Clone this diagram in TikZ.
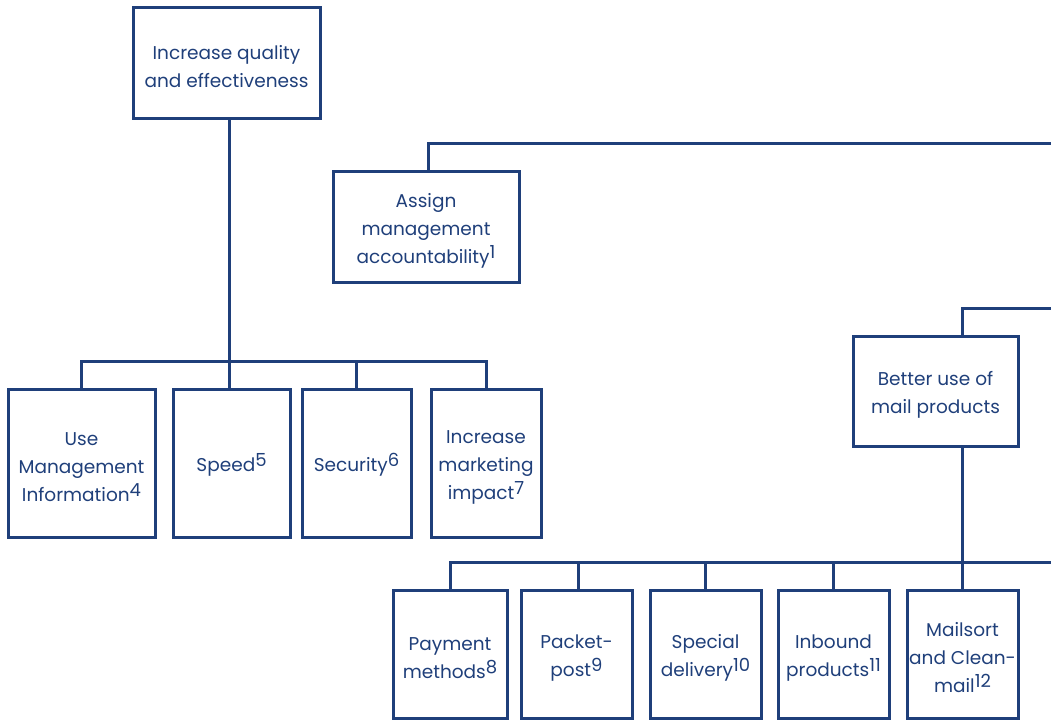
\documentclass[tikz,border=0pt]{standalone}
\usepackage{fontspec}
\setmainfont{Poppins}
\definecolor{navy}{RGB}{31,63,122}
\newcommand{\sps}[1]{\raisebox{5pt}{\fontsize{18}{18}\selectfont #1}}
\newcommand{\dn}{\rule{0pt}{22pt}}
\begin{document}
\begin{tikzpicture}[x=1pt,y=-1pt,
  every node/.style={font=\fontsize{18.5}{28}\selectfont, text=navy},
  box/.style={draw=navy, line width=3pt, align=center, inner sep=0pt},
  conn/.style={draw=navy, line width=3pt}]
\useasboundingbox (0,0) rectangle (1051,720);
% nodes
\node[box, minimum width=187, minimum height=111] (top) at (226.5,62.5) {\dn Increase quality\\and effectiveness};
\node[box, minimum width=186, minimum height=111] (assign) at (426,226.5) {\dn Assign\\management\\accountability\sps{1}};
\node[box, minimum width=165, minimum height=110] (better) at (935.5,391) {\dn Better use of\\mail products};
\node[box, minimum width=147, minimum height=148] (use) at (81.5,463) {\dn Use\\Management\\Information\sps{4}};
\node[box, minimum width=117, minimum height=148] (speed) at (231.5,463) {\dn Speed\sps{5}};
\node[box, minimum width=109, minimum height=148] (sec) at (356.5,463) {\dn Security\sps{6}};
\node[box, minimum width=110, minimum height=148] (mkt) at (486,463) {\dn Increase\\marketing\\impact\sps{7}};
\node[box, minimum width=114, minimum height=128] (pay) at (450,654) {\dn Payment\\methods\sps{8}};
\node[box, minimum width=111, minimum height=128] (pkt) at (576.5,654) {\dn Packet-\\post\sps{9}};
\node[box, minimum width=111, minimum height=128] (spd) at (705.5,654) {\dn Special\\delivery\sps{10}};
\node[box, minimum width=111, minimum height=128] (inb) at (833.5,654) {\dn Inbound\\products\sps{11}};
\node[box, minimum width=111, minimum height=128] (mls) at (962.5,654) {\dn Mailsort\\and Clean-\\mail\sps{12}};
% helper coordinates
\coordinate (busL) at (0,361);
\coordinate (busR) at (1051,562);
\coordinate (r1) at (1051,143);
\coordinate (r2) at (1051,308);
\coordinate (bx) at (962,0);
\coordinate (tx) at (229,0);
% connectors
\draw[conn] (top.south -| tx) -- (speed.north -| tx);
\draw[conn] (use.north) -- (use.north |- busL) -- (mkt.north |- busL) -- (mkt.north);
\draw[conn] (sec.north |- busL) -- (sec.north);
\draw[conn] (assign.north -| 428,0) -- (r1 -| 428,0) -- (r1);
\draw[conn] (better.north -| bx) -- (r2 -| bx) -- (r2);
\draw[conn] (better.south -| bx) -- (mls.north -| bx);
\draw[conn] (pay.north) -- (pay.north |- busR) -- (busR);
\draw[conn] (pkt.north -| 578,0) -- (busR -| 578,0);
\draw[conn] (spd.north) -- (spd.north |- busR);
\draw[conn] (inb.north) -- (inb.north |- busR);
\end{tikzpicture}
\end{document}
